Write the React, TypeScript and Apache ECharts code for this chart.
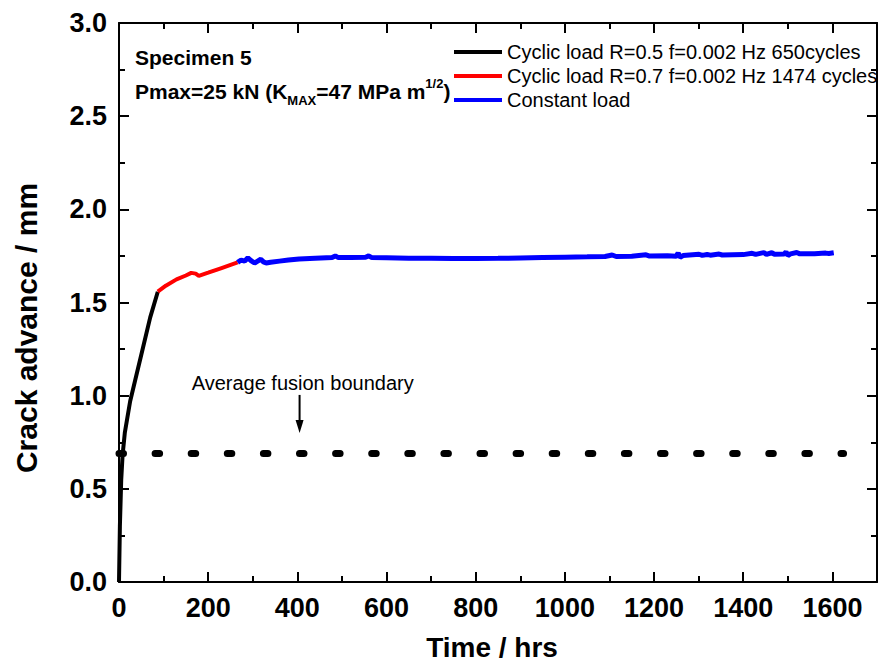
import React, { useEffect, useRef } from "react";
import * as echarts from "echarts";

const FONT = "Arial, 'Liberation Sans', Helvetica, sans-serif";

// Cyclic load R=0.5 (black)
const blackTime = [0, 2, 5, 8, 13, 25, 36, 50, 70, 87];
const blackValue = [0, 0.3, 0.55, 0.68, 0.8, 0.97, 1.08, 1.22, 1.42, 1.558];

// Cyclic load R=0.7 (red)
const redTime = [87, 105, 129, 150, 162, 172, 179, 200, 230, 266];
const redValue = [1.558, 1.59, 1.624, 1.645, 1.659, 1.655, 1.643, 1.66, 1.685, 1.715];

// Constant load (blue)
const blueTime = [
  266, 274, 282, 289, 296, 304, 311, 318, 324, 330, 340, 360, 380, 404, 440, 478, 485, 492,
  520, 553, 560, 567, 600, 650, 700, 750, 800, 850, 900, 950, 1000, 1050, 1090, 1106, 1115,
  1150, 1182, 1190, 1230, 1250, 1254, 1258, 1265, 1301, 1308, 1319, 1326, 1346, 1353, 1400,
  1420, 1428, 1446, 1452, 1464, 1470, 1492, 1496, 1500, 1506, 1520, 1527, 1560, 1585, 1592,
  1603,
];
const blueValue = [
  1.715, 1.728, 1.722, 1.74, 1.725, 1.712, 1.722, 1.732, 1.718, 1.712, 1.716, 1.722, 1.728,
  1.734, 1.738, 1.742, 1.75, 1.741, 1.742, 1.743, 1.75, 1.741, 1.74, 1.738, 1.737, 1.736,
  1.736, 1.737, 1.739, 1.741, 1.743, 1.745, 1.747, 1.755, 1.747, 1.748, 1.756, 1.749, 1.751,
  1.748, 1.766, 1.742, 1.752, 1.759, 1.753, 1.758, 1.754, 1.76, 1.755, 1.757, 1.764, 1.758,
  1.768, 1.758, 1.767, 1.759, 1.76, 1.772, 1.752, 1.761, 1.768, 1.761, 1.762, 1.765, 1.763,
  1.767,
];

// Average fusion boundary (dotted)
const boundaryTime = [0, 1625];
const boundaryValue = [0.69, 0.69];

const seriesNames = [
  "Cyclic load R=0.5 f=0.002 Hz 650cycles",
  "Cyclic load R=0.7 f=0.002 Hz 1474 cycles",
  "Constant load",
];

const zip = (t: number[], v: number[]) => t.map((x, i) => [x, v[i]]);

export default function App() {
  const ref = useRef<HTMLDivElement>(null);
  useEffect(() => {
    if (!ref.current) return;
    const chart = echarts.init(ref.current, null, { renderer: "svg" });

    const tickStyle = { color: "#000", width: 2 };
    const baseX = {
      type: "value",
      min: 0,
      max: 1700,
      splitLine: { show: false },
      axisLine: { onZero: false, lineStyle: { color: "#000", width: 2 } },
    };
    const baseY = {
      type: "value",
      min: 0,
      max: 3,
      interval: 0.5,
      splitLine: { show: false },
      axisLine: { onZero: false, lineStyle: { color: "#000", width: 2 } },
      axisTick: { inside: true, length: 10, lineStyle: tickStyle },
      minorTick: { show: true, splitNumber: 2, length: 6, lineStyle: tickStyle },
    };

    const option: any = {
      animation: false,
      backgroundColor: "#fff",
      grid: { left: 119, top: 23, right: 1, bottom: 79 },
      legend: {
        data: seriesNames,
        orient: "vertical",
        left: 454,
        top: 40,
        padding: 0,
        itemGap: 0,
        itemWidth: 48,
        itemHeight: 4,
        icon: "rect",
        selectedMode: false,
        textStyle: { fontFamily: FONT, fontSize: 20, lineHeight: 24, color: "#000" },
      },
      xAxis: [
        {
          ...baseX,
          position: "bottom",
          interval: 200,
          axisTick: { inside: true, length: 10, lineStyle: tickStyle },
          axisLabel: {
            showMaxLabel: false,
            margin: 12,
            fontFamily: FONT,
            fontSize: 27,
            fontWeight: "bold",
            color: "#000",
            formatter: (v: number) => String(v),
          },
        },
        {
          ...baseX,
          position: "bottom",
          interval: 100,
          axisLine: { show: false, onZero: false },
          axisTick: { inside: true, length: 6, lineStyle: tickStyle },
          axisLabel: { show: false },
        },
        {
          ...baseX,
          position: "top",
          interval: 200,
          axisTick: { inside: true, length: 10, lineStyle: tickStyle },
          axisLabel: { show: false },
        },
        {
          ...baseX,
          position: "top",
          interval: 100,
          axisLine: { show: false, onZero: false },
          axisTick: { inside: true, length: 6, lineStyle: tickStyle },
          axisLabel: { show: false },
        },
      ],
      yAxis: [
        {
          ...baseY,
          position: "left",
          axisLabel: {
            margin: 12,
            fontFamily: FONT,
            fontSize: 27,
            fontWeight: "bold",
            color: "#000",
            formatter: (v: number) => v.toFixed(1),
          },
        },
        { ...baseY, position: "right", axisLabel: { show: false } },
      ],
      series: [
        {
          name: "",
          type: "line",
          data: zip(boundaryTime, boundaryValue),
          symbol: "none",
          clip: false,
          silent: true,
          color: "#000",
          lineStyle: { color: "#000", width: 7, type: [4.5, 31.6], cap: "round" },
          z: 1,
        },
        {
          name: seriesNames[0],
          type: "line",
          data: zip(blackTime, blackValue),
          symbol: "none",
          color: "#000",
          lineStyle: { color: "#000", width: 4 },
          z: 3,
        },
        {
          name: seriesNames[1],
          type: "line",
          data: zip(redTime, redValue),
          symbol: "none",
          color: "#ff0000",
          lineStyle: { color: "#ff0000", width: 4 },
          z: 3,
        },
        {
          name: seriesNames[2],
          type: "line",
          data: zip(blueTime, blueValue),
          symbol: "none",
          color: "#0000ff",
          lineStyle: { color: "#0000ff", width: 5 },
          z: 3,
        },
      ],
    };
    chart.setOption(option);

    const toPx = (t: number, v: number) =>
      chart.convertToPixel({ xAxisIndex: 0, yAxisIndex: 0 }, [t, v]) as number[];
    const aTop = toPx(405, 1.004);
    const aHeadStart = toPx(405, 0.87);
    const aTip = toPx(405, 0.8);
    const txt = toPx(163, 1.068);

    chart.setOption({
      graphic: [
        {
          type: "text",
          x: 135,
          y: 57,
          style: {
            text: "Specimen 5",
            fontFamily: FONT,
            fontSize: 21,
            fontWeight: "bold",
            fill: "#000",
            verticalAlign: "middle",
          },
        },
        {
          type: "text",
          x: 135,
          y: 75,
          style: {
            text: "{a|Pmax=25 kN (K}{b|MAX}{a|=47 MPa m}{c|1/2}{a|)}",
            verticalAlign: "top",
            fill: "#000",
            rich: {
              a: { fontFamily: FONT, fontSize: 21, fontWeight: "bold", lineHeight: 32, verticalAlign: "middle" },
              b: { fontFamily: FONT, fontSize: 13, fontWeight: "bold", lineHeight: 32, verticalAlign: "bottom" },
              c: { fontFamily: FONT, fontSize: 13, fontWeight: "bold", lineHeight: 30, verticalAlign: "top", padding: [2, 0, 0, 0] },
            },
          },
        },
        {
          type: "text",
          x: txt[0],
          y: txt[1],
          style: {
            text: "Average fusion boundary",
            fontFamily: FONT,
            fontSize: 20,
            fill: "#000",
            verticalAlign: "middle",
          },
        },
        {
          type: "line",
          shape: { x1: aTop[0], y1: aTop[1], x2: aHeadStart[0], y2: aHeadStart[1] + 2 },
          style: { stroke: "#000", lineWidth: 2 },
        },
        {
          type: "polygon",
          shape: {
            points: [
              [aHeadStart[0] - 4, aHeadStart[1]],
              [aHeadStart[0] + 4, aHeadStart[1]],
              [aTip[0], aTip[1]],
            ],
          },
          style: { fill: "#000" },
        },
        {
          type: "text",
          x: 26,
          y: 328,
          rotation: Math.PI / 2,
          style: {
            text: "Crack advance / mm",
            fontFamily: FONT,
            fontSize: 30,
            fontWeight: "bold",
            fill: "#000",
            align: "center",
            verticalAlign: "middle",
          },
        },
        {
          type: "text",
          x: 492,
          y: 647,
          style: {
            text: "Time / hrs",
            fontFamily: FONT,
            fontSize: 28,
            fontWeight: "bold",
            fill: "#000",
            align: "center",
            verticalAlign: "middle",
          },
        },
      ],
    });

    return () => chart.dispose();
  }, []);

  return (
    <div
      ref={ref}
      style={{ position: "fixed", left: 0, top: 0, width: 878, height: 661, background: "#fff" }}
    />
  );
}
